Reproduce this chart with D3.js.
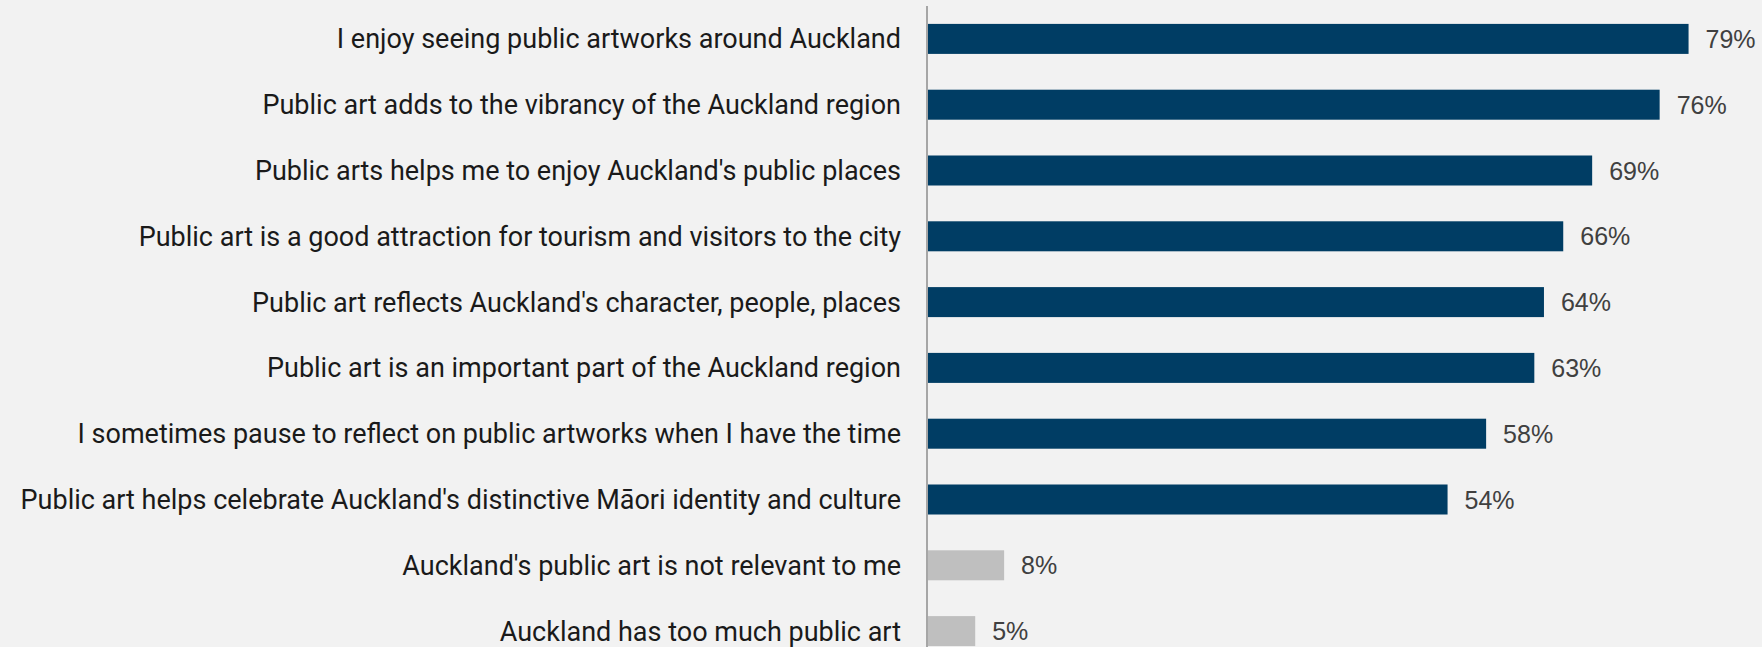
<!DOCTYPE html>
<html>
<head>
<meta charset="utf-8">
<script src="https://cdn.jsdelivr.net/npm/d3@7"></script>
<style>
  html, body { margin: 0; padding: 0; background: #f2f2f2; }
  svg { display: block; }
</style>
</head>
<body>
<div id="chart"></div>
<script>
const statements = [
    "I enjoy seeing public artworks around Auckland",
    "Public art adds to the vibrancy of the Auckland region",
    "Public arts helps me to enjoy Auckland's public places",
    "Public art is a good attraction for tourism and visitors to the city",
    "Public art reflects Auckland's character, people, places",
    "Public art is an important part of the Auckland region",
    "I sometimes pause to reflect on public artworks when I have the time",
    "Public art helps celebrate Auckland's distinctive Māori identity and culture",
    "Auckland's public art is not relevant to me",
    "Auckland has too much public art"
];
const agreePct = [79, 76, 69, 66, 64, 63, 58, 54, 8, 5];
const isNegative = [false, false, false, false, false, false, false, false, true, true];

const width = 1762, height = 647;
const axisX = 927;

const svg = d3.select("#chart")
    .append("svg")
    .attr("width", width)
    .attr("height", height);

svg.append("rect")
    .attr("width", width)
    .attr("height", height)
    .attr("fill", "#f2f2f2");

const data = statements.map((s, i) => ({ label: s, value: agreePct[i], neg: isNegative[i] }));

const yScale = d3.scaleBand()
    .domain(statements)
    .range([6, 664])
    .paddingInner(0.544)
    .paddingOuter(0.272);

const xScale = d3.scaleLinear()
    .domain([0, 100])
    .range([axisX, axisX + 964]);

svg.selectAll(".bar")
    .data(data)
    .enter()
    .append("rect")
    .attr("class", "bar")
    .attr("x", xScale(0))
    .attr("y", d => yScale(d.label))
    .attr("width", d => xScale(d.value) - xScale(0))
    .attr("height", yScale.bandwidth())
    .attr("fill", d => d.neg ? "#bfbfbf" : "#003d64");

// category labels
svg.selectAll(".cat")
    .data(data)
    .enter()
    .append("text")
    .attr("class", "cat")
    .attr("x", axisX - 26)
    .attr("y", d => yScale(d.label) + yScale.bandwidth() / 2)
    .attr("dy", "0.35em")
    .attr("text-anchor", "end")
    .style("font-family", "Roboto, sans-serif")
    .style("font-size", "27px")
    .style("fill", "#1a1a1a")
    .text(d => d.label);

// value labels
svg.selectAll(".val")
    .data(data)
    .enter()
    .append("text")
    .attr("class", "val")
    .attr("x", d => xScale(d.value) + 17)
    .attr("y", d => yScale(d.label) + yScale.bandwidth() / 2)
    .attr("dy", "0.36em")
    .style("font-family", "'Liberation Sans', Arial, sans-serif")
    .style("font-size", "25px")
    .style("fill", "#404040")
    .text(d => d.value + "%");

// axis line
svg.append("line")
    .attr("x1", axisX)
    .attr("x2", axisX)
    .attr("y1", 6)
    .attr("y2", height)
    .attr("stroke", "#a6a6a6")
    .attr("stroke-width", 2);
</script>
</body>
</html>
